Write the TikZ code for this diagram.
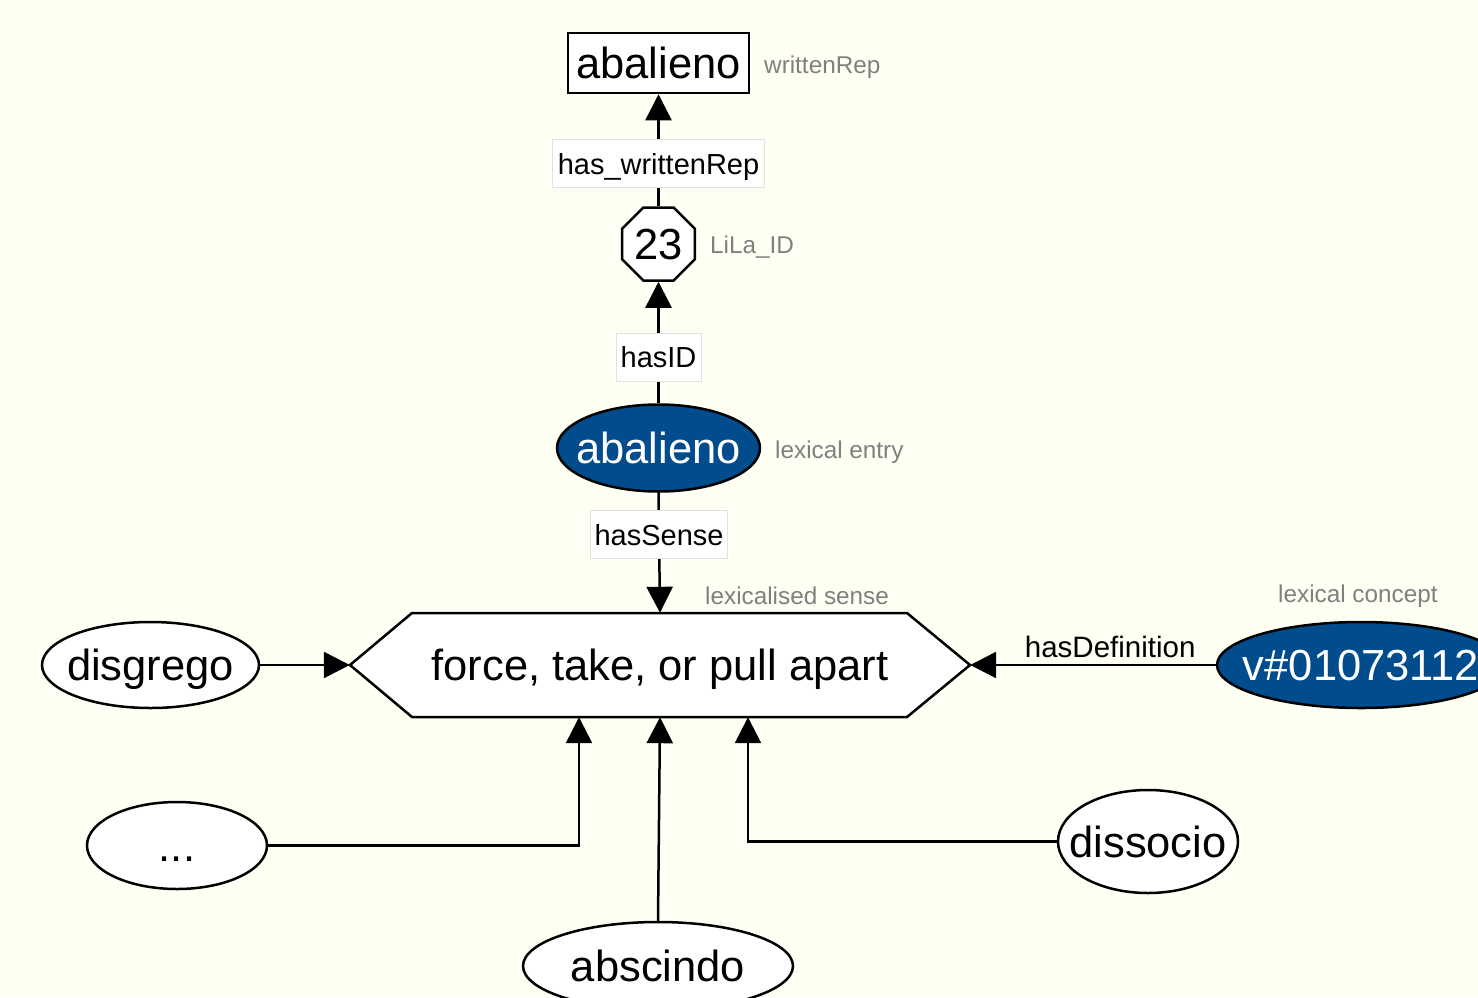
\documentclass[tikz,border=0pt]{standalone}
\usepackage{fontspec}
\setmainfont{Liberation Sans}
\usetikzlibrary{arrows.meta,shapes.geometric}
\definecolor{bgcol}{RGB}{255,255,244}
\definecolor{lexblue}{RGB}{0,76,140}
\definecolor{greytxt}{RGB}{128,128,128}
\definecolor{labline}{RGB}{226,226,226}
\newcommand{\mylbl}[1]{\smash{\raisebox{-0.36em}{\makebox[0pt]{#1}}}}
\tikzset{
  bigtext/.style={font=\fontsize{43.5}{50}\selectfont},
  elnode/.style={ellipse, draw, line width=2.5pt, fill=white, inner sep=0pt, bigtext},
  bluenode/.style={elnode, fill=lexblue, text=white},
  lab/.style={draw=labline, line width=1pt, fill=white, inner sep=0pt, minimum height=48pt, font=\fontsize{29}{33}\selectfont},
  note/.style={text=greytxt, font=\fontsize{24.3}{28}\selectfont, anchor=base west, inner sep=0pt},
  arr/.style={line width=2.5pt, -{Triangle[width=26pt,length=26pt]}},
}
\begin{document}
\begin{tikzpicture}[x=1pt,y=-1pt]
\useasboundingbox (0,0) rectangle (1478,997);
\clip (0,0) rectangle (1478,997);
\fill[bgcol] (0,0) rectangle (1478,997);

% nodes
\node[draw, line width=2.5pt, fill=white, inner sep=0pt, minimum width=181pt, minimum height=60pt, bigtext] (wrep) at (658.5,63) {\mylbl{abalieno}};
\node[note] (wrepn) at (764,73) {writtenRep};

\node[regular polygon, regular polygon sides=8, draw, line width=2.5pt, fill=white, inner sep=0pt, minimum size=79pt, bigtext] (oct) at (658.5,244) {\mylbl{23}};
\node[note] (octn) at (710,253) {LiLa\_ID};

\node[bluenode, minimum width=203pt, minimum height=87pt] (lexent) at (658.5,448) {\mylbl{abalieno}};
\node[note] (lexentn) at (775,458) {lexical entry};

\path[draw, line width=2.5pt, fill=white] (350,665) -- (412,613) -- (907,613) -- (970,665) -- (907,717) -- (412,717) -- cycle;
\node[inner sep=0pt, minimum width=620pt, minimum height=104pt, bigtext] (hex) at (660,665) {\mylbl{force, take, or pull apart}};
\node[note] (hexn) at (705,604) {lexicalised sense};

\node[elnode, minimum width=217pt, minimum height=86pt] (disgrego) at (150.5,665) {\mylbl{disgrego}};
\node[bluenode, minimum width=288pt, minimum height=86pt] (concept) at (1361,665) {\mylbl{v\#01073112}};
\node[note] (conceptn) at (1278,602) {lexical concept};

\node[elnode, minimum width=180pt, minimum height=87pt] (dots) at (177,845.5) {\mylbl{...}};
\node[elnode, minimum width=270pt, minimum height=88pt] (abscindo) at (658,966) {\mylbl{abscindo}};
\node[elnode, minimum width=180pt, minimum height=103pt] (dissocio) at (1148,841.5) {\mylbl{dissocio}};

% connectors
\draw[arr] (oct.north) -- node[lab, pos=0.38, minimum width=212pt] (l1) {\mylbl{has\_writtenRep}} (wrep.south);
\draw[arr] (lexent.north) -- node[lab, pos=0.38, minimum width=85pt] (l2) {\mylbl{hasID}} (oct.south);
\draw[arr] (lexent.south) -- node[lab, pos=0.35, minimum width=137pt] (l3) {\mylbl{hasSense}} (hex.north);
\draw[arr] (disgrego.east) -- (hex.west);
\draw[arr] (concept.west) -- node[pos=0.43, anchor=base, yshift=8pt, inner sep=0pt, font=\fontsize{29.5}{33}\selectfont] (l4) {hasDefinition} (hex.east);
\draw[arr] (dots.east) -| ([xshift=-81pt]hex.south);
\draw[arr] (abscindo.north) -- (hex.south);
\draw[arr] (dissocio.west) -| ([xshift=88pt]hex.south);
\end{tikzpicture}
\end{document}
